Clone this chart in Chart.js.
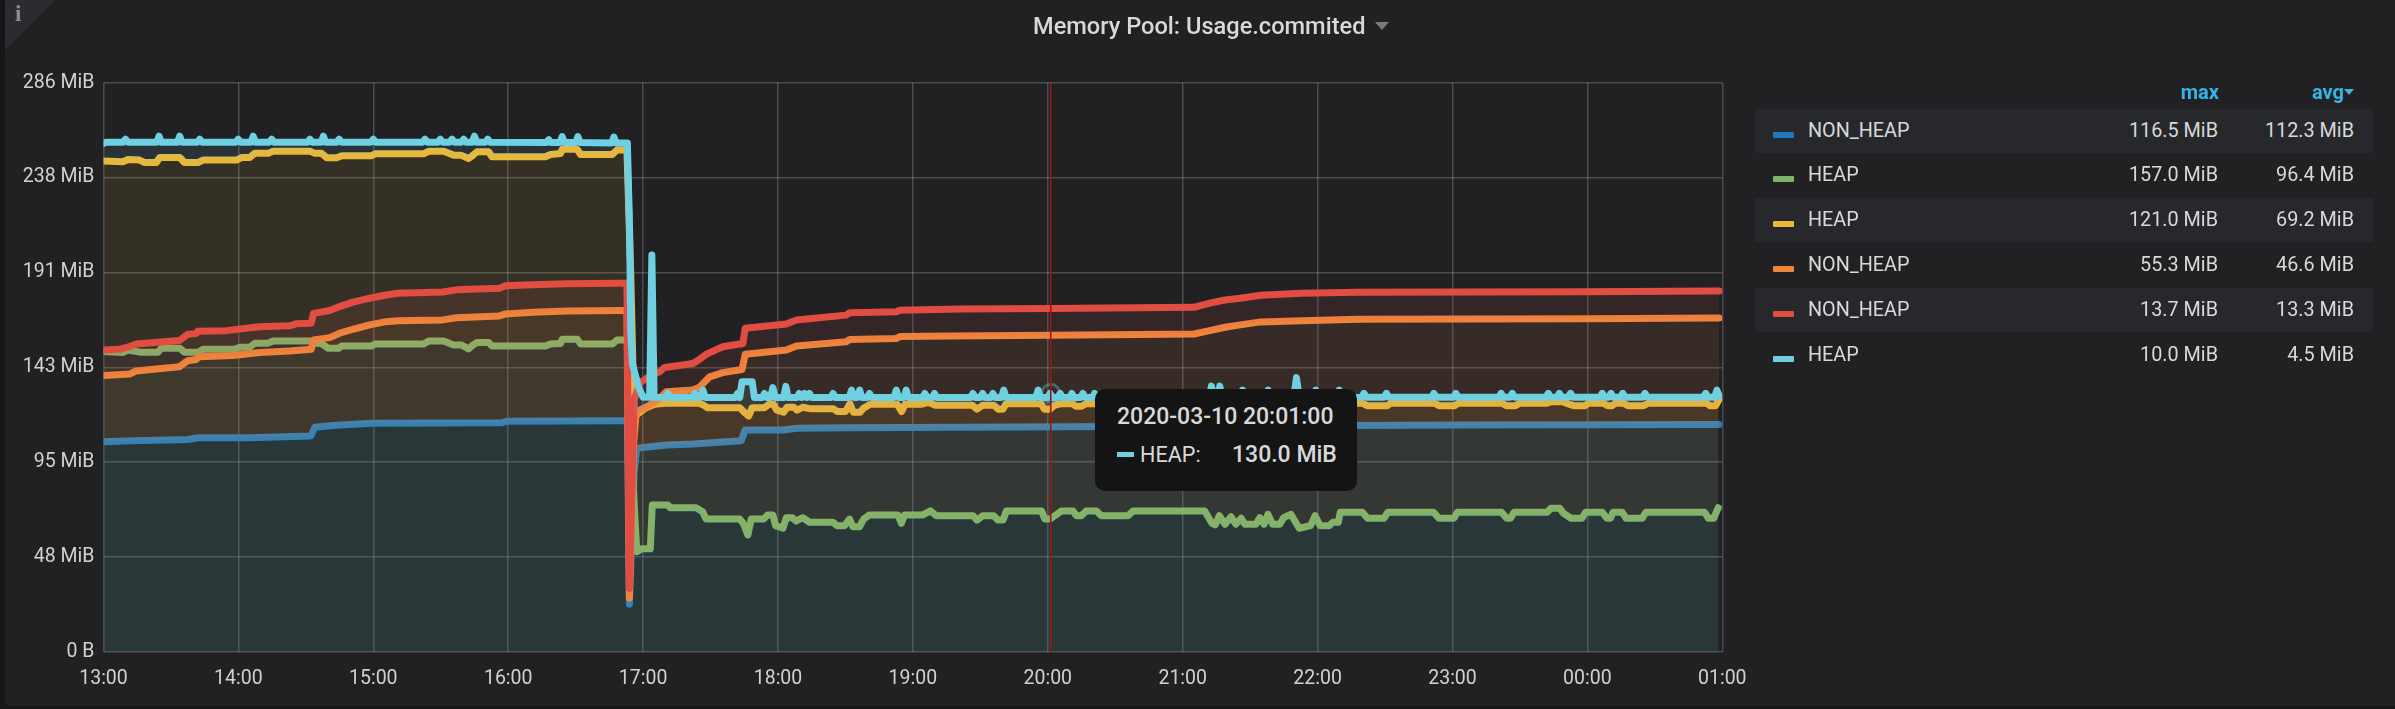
<!DOCTYPE html>
<html>
<head>
<meta charset="utf-8">
<title>Memory Pool: Usage.commited</title>
<script src="https://cdn.jsdelivr.net/npm/chart.js@4"></script>
<style>
html, body { margin: 0; padding: 0; background: #161719; width: 2395px; height: 709px; overflow: hidden; font-family: Roboto, sans-serif; }
#panel { position: absolute; left: 5px; top: 0; width: 2390px; height: 706px; background: #212124; border-radius: 0 0 0 5px; }
#myChart { position: absolute; left: 0; top: 0; display: block; }
#corner { position: absolute; left: 5px; top: 0; width: 50px; height: 50px; background: #2b2b30; clip-path: polygon(0 0, 100% 0, 0 100%); }
#cornerI { position: absolute; left: 15px; top: 1px; color: #8e8e8e; font: bold 23px "Liberation Serif", serif; }
#title { position: absolute; left: 1033px; top: 13px; color: #d8d9da; font-size: 23.6px; font-weight: 500; white-space: nowrap; line-height: 26px; }
#caret { position: absolute; left: 1375px; top: 22px; width: 0; height: 0; border-left: 7px solid transparent; border-right: 7px solid transparent; border-top: 8px solid #7b7b7e; }
.head { position: absolute; top: 78px; color: #33b5e5; font-size: 20px; font-weight: 700; line-height: 28px; text-align: right; }
.row { position: absolute; left: 1755px; width: 618px; height: 44px; }
.row.alt { background: #27282b; }
.swatch { position: absolute; left: 18px; top: 23px; width: 21px; height: 6px; border-radius: 1px; }
.name, .val { position: absolute; top: 8px; color: #d8d9da; font-size: 19.8px; line-height: 28px; white-space: nowrap; }
.name { left: 53px; }
.val { text-align: right; }
.v1 { right: 155px; }
.v2 { right: 19px; }
#tip { position: absolute; left: 1095px; top: 389px; width: 262px; height: 102px; background: #141414; border-radius: 10px; color: #d8d9da; }
#tipTime { position: absolute; left: 22px; top: 15px; font-size: 23px; font-weight: 500; white-space: nowrap; line-height: 26px; }
#tipSwatch { position: absolute; left: 22px; top: 63px; width: 17px; height: 5px; }
#tipName { position: absolute; left: 45px; top: 53px; font-size: 21.6px; white-space: nowrap; line-height: 26px; }
#tipVal { position: absolute; left: 137px; top: 53px; font-size: 23px; font-weight: 500; white-space: nowrap; line-height: 26px; }
</style>
</head>
<body>
<div id="panel"></div>
<canvas id="myChart" width="2395" height="709"></canvas>
<div id="corner"></div>
<div id="cornerI">i</div>
<div id="title">Memory Pool: Usage.commited</div>
<div id="caret"></div>
<div id="legend"></div>
<div id="tip">
  <div id="tipTime"></div>
  <div id="tipSwatch"></div>
  <div id="tipName"></div>
  <div id="tipVal"></div>
</div>
<script>
const hourLabels = ['13:00','14:00','15:00','16:00','17:00','18:00','19:00','20:00','21:00','22:00','23:00','00:00','01:00'];
const hourMinutes = [0,60,120,180,240,300,360,420,480,540,600,660,720];
const yTickValues = [0,47.68,95.37,143.05,190.73,238.42,286.1];
const yTickLabels = ['0 B','48 MiB','95 MiB','143 MiB','191 MiB','238 MiB','286 MiB'];

const legendNames = ['NON_HEAP','HEAP','HEAP','NON_HEAP','NON_HEAP','HEAP'];
const legendMax = ['116.5 MiB','157.0 MiB','121.0 MiB','55.3 MiB','13.7 MiB','10.0 MiB'];
const legendAvg = ['112.3 MiB','96.4 MiB','69.2 MiB','46.6 MiB','13.3 MiB','4.5 MiB'];
const seriesColors = ['#2c7cbd','#7eb26d','#eab839','#ef843c','#e24d42','#6ed0e0'];
const swatchColors = ['#1f78c1','#7eb26d','#eab839','#ef843c','#e24d42','#6ed0e0'];
const fillColors = ['rgba(31,120,193,0.11)','rgba(126,178,109,0.10)','rgba(234,184,57,0.10)','rgba(239,132,60,0.11)','rgba(226,77,66,0.10)','rgba(110,208,224,0.10)'];

// [minutes since 13:00, height on the graph in MiB], series stack in two piles
const blueNonHeap = [[0,105.7],[12.7,106.2],[37.7,106.8],[42.3,107.7],[65,107.7],[92.2,108.5],[94,112.9],[103.5,114],[119.4,114.9],[177.2,115.2],[179.5,116],[230.5,116.2],[233,116.2],[233.9,24],[236,90],[237.2,102.4],[250.4,104],[262.2,104.5],[283.7,106.2],[285.4,111.6],[302.3,111.6],[308.2,112.4],[330.3,112.7],[381,112.9],[603,114.1],[717,114.3],[718.6,114.3]];
const greenHeap = [[0,151],[8.6,150.5],[10.9,151.8],[16.8,150.6],[24.2,150.6],[25.7,152.6],[33.9,152.6],[36.1,150.6],[42,150.6],[44.3,152.1],[58.4,152.1],[60.6,153.1],[65,153.1],[67.3,155.2],[73.3,155.2],[75.5,156.3],[91.8,156.3],[94,155.2],[97,155],[100,152.6],[104.5,152.6],[106,153.8],[119.3,153.8],[120.8,154.8],[142.4,154.8],[144.6,156.3],[151.3,156.3],[155.7,154.3],[159,154.3],[162.4,152.3],[164.4,154.3],[166.1,155.5],[171.3,155.5],[172.8,153.8],[196.6,153.8],[198.8,154.8],[203.3,155],[204,157.2],[210.7,157.2],[212.2,154.8],[226.3,154.8],[228.5,156.8],[233,156.8],[236,75],[237.2,50.4],[239.3,51.9],[243.2,51.9],[244.1,73.9],[251,73.9],[252,72.5],[263.5,72.5],[266.5,70.5],[268,66.8],[283,66.8],[284.5,64.7],[286.6,58.8],[288.1,66.8],[293.6,66.8],[295.4,68.9],[297.7,68.9],[298.9,63.5],[302.2,62.2],[303.7,67.5],[306.4,67.5],[308,65.8],[311,67.5],[314,65.2],[324.4,65.2],[326.3,63.5],[329.6,63.5],[331.8,66.8],[333.3,63],[336.3,63],[338.1,66.8],[340.7,68.9],[353.3,68.9],[354.9,64.7],[356.3,68.9],[364.5,68.9],[367.8,70.9],[370.3,68.5],[386.7,68.5],[388.5,66.3],[391.2,68.5],[395.9,68.5],[397.8,66.3],[400.1,66.3],[401.6,70.9],[417.2,70.9],[418.7,66.8],[420.9,66.8],[423.2,68.5],[426,70.9],[431.2,70.9],[432.7,68.5],[434.9,68.5],[437.1,70.9],[441.6,70.9],[443.8,68.5],[455.7,68.5],[457.9,70.9],[489.8,70.9],[493,64.7],[494.5,63.9],[496.3,68.5],[498.8,64.2],[501.5,68],[503.6,64.2],[506,67.2],[507.7,64.2],[512.6,64.2],[514.3,67.5],[516.2,64.2],[517.9,69.2],[520,64.2],[523.2,64.2],[524.9,67.5],[528.1,69.2],[531.8,62.2],[536.9,63.5],[538.9,68.5],[541.1,63.5],[545.2,63.5],[546.8,65.2],[549.2,65.2],[550.1,70.2],[559.9,70.2],[562.2,67.2],[569.6,67.2],[571.2,70.2],[591.6,70.2],[594,67.2],[600.6,67.2],[602.2,70.2],[621.8,70.2],[624.2,67.2],[625.8,67.2],[627.4,70.2],[642.1,70.2],[643.7,72.2],[647.7,72.2],[649.4,69.7],[652.7,67.2],[657.6,67.2],[659.2,70.2],[666.6,70.2],[668.7,67.2],[670.3,67.2],[671.4,70.2],[675.5,70.2],[677.2,67.2],[684.4,67.2],[686,70.2],[712.1,70.2],[713.8,67.2],[716.2,67.2],[718.2,72.5]];
const yellowHeap = [[0,246.7],[8.6,246.4],[10.9,247.5],[16,247.2],[18.3,246],[23.5,246],[25,248.5],[33.9,248.5],[36,246],[42,246],[44.3,247.2],[59.1,247.2],[61.4,248.5],[65,248.5],[67.3,250.6],[73.3,250.6],[75.5,251.7],[91.8,251.7],[94,250.6],[97,250.6],[99.3,248.4],[103.7,248.4],[106,249.4],[119.3,249.4],[120.8,250.4],[142.4,250.4],[144.6,251.6],[151.3,251.6],[155.7,249.7],[159,249.7],[162.4,248],[164.4,249.7],[166.1,251.4],[171.3,251.4],[172.8,248.9],[196.6,248.9],[198.8,250],[203.3,250.5],[204,252.6],[210.7,252.6],[212.2,250],[226.3,250],[228.5,252.4],[232.8,252.3],[234.5,190],[236,118],[238,120],[241,122.5],[245,124.5],[250,125],[265,125],[267,124],[268.5,122.8],[283,122.8],[285,120.5],[287,118.6],[288.5,122.8],[294,122.8],[296,124.5],[298,124.5],[299.5,121.5],[302.5,120.5],[304,123],[307,123],[308.5,121.5],[311,123],[314,122.3],[324.5,122.3],[326.5,120.8],[330,120.8],[332,124.8],[333.5,120.5],[336.5,120.5],[338,122.5],[341,124.5],[353,124.5],[355,120.8],[356.5,124.5],[364,124.5],[367,125.5],[370,124],[386.5,124],[388.5,122],[391,124],[396,124],[398,122],[400,122],[401.5,124.8],[417,124.8],[418.5,122],[421,122],[423,124],[426,124.8],[431,124.8],[432.5,123.5],[435,123.5],[437,124.8],[441,124.8],[444,124],[455,124],[457,124.8],[555,125],[560,125],[562,123.8],[571,123.8],[572.5,125],[592,125],[594,123.8],[601,123.8],[602.5,125],[622,125],[624,123.8],[628,123.8],[630,125],[642,125],[644,125.8],[649,125.8],[651,124.8],[654,123.8],[659,123.8],[660.5,125],[667,125],[669,123.8],[671,123.8],[672.5,125],[676,125],[678,123.8],[685,123.8],[687,125],[713,125],[714.5,123.8],[717,123.8],[718.6,127]];
const orangeNonHeap = [[0,138.9],[11.6,139.7],[14.3,141.2],[33.8,143.4],[37.5,146.4],[41.2,147],[42.4,148.4],[57.6,149],[69.5,150.5],[82.7,151.3],[92.4,152.1],[93.4,156.8],[100.6,158],[105,160.2],[111,162.2],[118.4,164.4],[125.7,166],[130.9,166.5],[150.9,166.9],[156.9,168],[176.1,168.9],[178.8,169.9],[191,170.7],[205.9,171.4],[229.5,171.6],[232.8,171.6],[233.9,27],[235.8,105],[237,120.8],[243,124.1],[247,127],[250.3,130.8],[262,131.7],[265,133],[269.6,138.3],[275.4,140.4],[284,142],[285.4,149.6],[303.7,151.8],[308.2,153.8],[330.3,155.9],[331.9,157.1],[352.7,157.6],[354.2,158.5],[376.2,158.8],[421.7,159.2],[485,159.8],[492,161.5],[498.8,163.2],[505.6,164.4],[514.7,165.9],[532.8,166.5],[557.9,167.2],[659.7,167.5],[716.6,167.9],[718.6,167.9]];
const redNonHeap = [[0,151.8],[7,152.1],[11.6,153.5],[14.6,154.8],[33.8,156.5],[37.5,159.7],[41.2,160],[41.9,161.2],[54.6,161.5],[63.5,162.7],[69.5,163.5],[82.7,163.9],[85.7,164.9],[92.4,165.2],[93.4,170.2],[100.6,171.6],[105,173.6],[111,175.8],[118.4,177.8],[125.7,179.4],[130.9,180.3],[150.9,180.9],[156.9,182],[176.1,182.8],[178.8,184.1],[191,184.6],[205.9,185.1],[229.5,185.3],[232.8,185.3],[233.9,32],[236,126.6],[238.5,135.1],[241.5,137.6],[247.4,140.9],[249.6,143],[262.2,145],[265,147],[268.2,149.7],[275.4,153.4],[284.4,155],[285.4,162.7],[303.7,164.8],[308.2,166.8],[330.3,169.3],[331.9,170.5],[352.7,171],[354.2,171.8],[381,172.4],[421.7,172.6],[485,173.2],[492,175.3],[498.8,176.9],[505.6,177.8],[514.7,179.3],[532.8,180.3],[557.9,180.8],[659.7,181.1],[716.6,181.4],[718.6,181.4]];
const cyanHeap = [[0,255.5],[1,256.2],[8.8,256.2],[9.8,257.7],[10.8,256.2],[23.7,256.2],[24.7,259.2],[25.7,256.2],[32.9,256.2],[33.9,259.2],[34.9,256.2],[41.8,256.2],[42.8,257.7],[43.8,256.2],[58.9,256.2],[59.9,257.7],[60.9,256.2],[65.6,256.2],[66.6,259.2],[67.6,256.2],[73.8,256.2],[74.8,257.7],[75.8,256.2],[90.8,256.2],[91.8,257.7],[92.8,256.2],[96.8,256.2],[97.8,259.2],[98.8,256.2],[103.8,256.2],[104.8,257.7],[105.8,256.2],[119,256.2],[120,257.7],[121,256.2],[142,256.2],[143,257.7],[144,256.2],[148.8,256.2],[149.8,257.7],[150.8,256.2],[154,256.2],[155,257.7],[156,256.2],[159.2,256.2],[160.2,257.7],[161.2,256.2],[164,256.2],[165,259.2],[166,256.2],[169.9,256.2],[170.9,257.7],[171.9,256.2],[197,256],[198,257.5],[199,256],[203,256],[204,259],[205,256],[210,256],[211,259],[212,256],[226,255.8],[227,258.8],[228,255.8],[233,255.8],[234,212],[234.5,162],[235.2,145],[238,133],[240,128],[242.9,128],[243.9,199.5],[244.9,128],[250,127.9],[251,129.9],[252,127.9],[262,127.9],[263,129.9],[264,127.9],[265.6,127.9],[266.6,131.6],[267.6,127.9],[281,127.9],[282,129.9],[283,127.9],[284,135.8],[288.5,135.8],[289.5,127.9],[293,127.9],[294,129.9],[295,127.9],[296.7,127.9],[297.7,132.9],[298.7,127.9],[302.5,127.9],[303.5,133.5],[304.5,127.9],[308.4,127.9],[309.4,129.9],[310.4,127.9],[310.8,127.9],[311.8,129.9],[312.8,127.9],[313,127.9],[314,129.9],[315,127.9],[323.5,127.9],[324.5,129.9],[325.5,127.9],[331.7,127.9],[332.7,131.6],[333.7,127.9],[335.3,127.9],[336.3,131.6],[337.3,127.9],[339.7,127.9],[340.7,129.9],[341.7,127.9],[351.6,127.9],[352.6,131.6],[353.6,127.9],[356,127.9],[357,131.6],[358,127.9],[364.3,127.9],[365.3,129.9],[366.3,127.9],[368.6,127.9],[369.6,129.9],[370.6,127.9],[385.7,127.9],[386.7,129.9],[387.7,127.9],[390,127.9],[391,129.9],[392,127.9],[394.6,127.9],[395.6,129.9],[396.6,127.9],[399.4,127.9],[400.4,131.6],[401.4,127.9],[414.7,127.9],[415.7,131.6],[416.7,127.9],[420,127.9],[421,130],[422,127.9],[424.5,127.9],[425.5,129.9],[426.5,127.9],[429.7,127.9],[430.7,129.9],[431.7,127.9],[434.6,127.9],[435.6,129.9],[436.6,127.9],[439.8,127.9],[440.8,129.9],[441.8,127.9],[491.8,127.9],[492.8,133.6],[493.8,127.9],[495.5,127.9],[496.5,133.6],[497.5,127.9],[505.6,127.9],[506.6,131.6],[507.6,127.9],[517,127.9],[518,131.6],[519,127.9],[529.4,127.9],[530.6,137.9],[531.8,127.9],[538.2,127.9],[539.2,131.6],[540.2,127.9],[548.6,127.9],[549.6,131.6],[550.6,127.9],[559.6,128],[560.6,130],[561.6,128],[569.6,128],[570.6,130],[571.6,128],[590.7,128],[591.7,130],[592.7,128],[600.5,128],[601.5,130],[602.5,128],[620.6,128],[621.6,130],[622.6,128],[625.6,128],[626.6,130],[627.6,128],[641.6,128],[642.6,130],[643.6,128],[646.5,128],[647.5,130],[648.5,128],[651.5,128],[652.5,130],[653.5,128],[665.6,128],[666.6,130],[667.6,128],[669.5,128],[670.5,130],[671.5,128],[674.7,128],[675.7,130],[676.7,128],[684.6,128],[685.6,130],[686.6,128],[711.6,128],[712.6,130],[713.6,128],[716.6,128],[717.6,131.6],[718.6,128.5]];

const hoverMinute = 421.3;
const hoverValue = 130;

document.getElementById('tipTime').textContent = '2020-03-10 20:01:00';
document.getElementById('tipName').textContent = 'HEAP:';
document.getElementById('tipVal').textContent = '130.0 MiB';
document.getElementById('tipSwatch').style.background = seriesColors[5];

//legend table on the right, same rows grafana shows
function renderLegend() {
    let html = '<div class="head" style="left:2160px;width:59px">max</div>' +
        '<div class="head" style="left:2285px;width:59px">avg</div>' +
        '<div style="position:absolute;left:2344px;top:89px;width:0;height:0;border-left:5px solid transparent;border-right:5px solid transparent;border-top:6px solid #33b5e5"></div>';
    for (let i = 0; i < legendNames.length; i++) {
        const top = 108.5 + i * 44.8;
        html += '<div class="row' + (i % 2 === 0 ? ' alt' : '') + '" style="top:' + top + 'px">' +
            '<div class="swatch" style="background:' + swatchColors[i] + '"></div>' +
            '<div class="name">' + legendNames[i] + '</div>' +
            '<div class="val v1">' + legendMax[i] + '</div>' +
            '<div class="val v2">' + legendAvg[i] + '</div>' +
            '</div>';
    }
    document.getElementById('legend').innerHTML = html;
}

function makeSeries(i, points, fillTarget, order) {
    return {
        label: legendNames[i],
        data: points.map(p => ({ x: p[0], y: p[1] })),
        borderColor: seriesColors[i],
        backgroundColor: fillColors[i],
        borderWidth: 7,
        borderJoinStyle: 'round',
        borderCapStyle: 'round',
        pointRadius: 0,
        tension: 0,
        fill: fillTarget,
        order: order
    };
}

//red hover line and the faint ring on the hovered point
const hoverMarker = {
    id: 'hoverMarker',
    afterDatasetsDraw(c) {
        const x = c.scales.x.getPixelForValue(hoverMinute);
        const y = c.scales.y.getPixelForValue(hoverValue);
        const ctx = c.ctx;
        ctx.save();
        ctx.strokeStyle = 'rgba(110,208,224,0.35)';
        ctx.lineWidth = 3;
        ctx.beginPath();
        ctx.arc(x, y, 9, 0, Math.PI * 2);
        ctx.stroke();
        ctx.strokeStyle = '#9a1616';
        ctx.lineWidth = 1.6;
        ctx.beginPath();
        ctx.moveTo(x, c.chartArea.top);
        ctx.lineTo(x, c.chartArea.bottom);
        ctx.stroke();
        ctx.restore();
    }
};

renderLegend();

const ctx = document.getElementById('myChart');
const chart = new Chart(ctx, {
    type: 'line',
    data: {
        datasets: [
            makeSeries(0, blueNonHeap, 'origin', 5),
            makeSeries(1, greenHeap, 'origin', 4),
            makeSeries(2, yellowHeap, 1, 3),
            makeSeries(3, orangeNonHeap, 0, 2),
            makeSeries(4, redNonHeap, 3, 1),
            makeSeries(5, cyanHeap, 2, 0)
        ]
    },
    options: {
        responsive: false,
        animation: false,
        devicePixelRatio: 1,
        events: [],
        layout: { padding: { left: 0, top: 82.7, right: 672.7, bottom: 0 } },
        plugins: { legend: { display: false }, tooltip: { enabled: false } },
        scales: {
            x: {
                type: 'linear',
                min: 0,
                max: 720,
                afterBuildTicks: s => { s.ticks = hourMinutes.map(v => ({ value: v })); },
                afterFit: s => { s.height = 57; },
                grid: { color: 'rgba(215,215,215,0.24)', lineWidth: 1.5, drawTicks: false },
                border: { display: false },
                ticks: {
                    color: '#d0d1d3',
                    font: { family: 'Roboto', size: 19.5 },
                    padding: 15,
                    maxRotation: 0,
                    autoSkip: false,
                    callback: v => hourLabels[hourMinutes.indexOf(v)]
                }
            },
            y: {
                min: 0,
                max: 286.1,
                afterBuildTicks: s => { s.ticks = yTickValues.map(v => ({ value: v })); },
                afterFit: s => { s.width = 103.5; },
                grid: { color: 'rgba(215,215,215,0.24)', lineWidth: 1.5, drawTicks: false },
                border: { display: false },
                ticks: {
                    color: '#d0d1d3',
                    font: { family: 'Roboto', size: 19.5 },
                    padding: 9,
                    autoSkip: false,
                    callback: v => yTickLabels[yTickValues.indexOf(v)]
                }
            }
        }
    },
    plugins: [hoverMarker]
});
</script>
</body>
</html>
